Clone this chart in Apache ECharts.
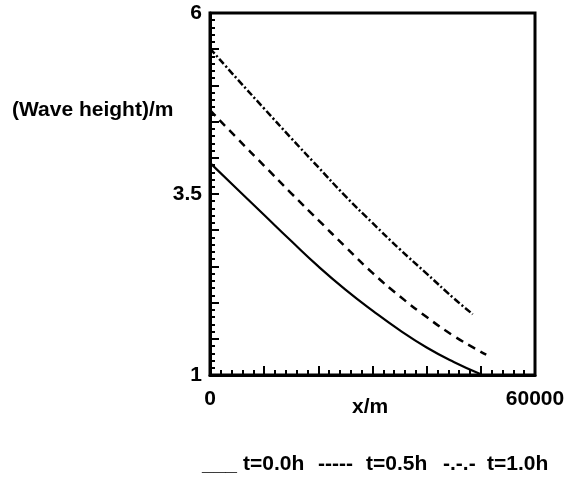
<!DOCTYPE html>
<html>
<head>
<meta charset="utf-8">
<script src="https://cdn.jsdelivr.net/npm/echarts@6/dist/echarts.min.js"></script>
<style>
  html, body { margin: 0; padding: 0; background: #fff; }
  #chart { width: 569px; height: 486px; }
</style>
</head>
<body>
<div id="chart"></div>
<script>
// Wave height along the channel at three times
const xPositions = [0, 5000, 10000, 15000, 20000, 25000, 30000, 35000, 40000, 45000, 50000];
const heightT00 = [3.93, 3.57, 3.21, 2.85, 2.50, 2.18, 1.89, 1.62, 1.38, 1.18, 1.01];
const xPositionsT05 = [0, 5000, 10000, 15000, 20000, 25000, 30000, 35000, 40000, 45000, 50000, 51000];
const heightT05 = [4.66, 4.27, 3.89, 3.51, 3.14, 2.77, 2.41, 2.09, 1.80, 1.54, 1.32, 1.28];
const xPositionsT10 = [0, 5000, 10000, 15000, 20000, 25000, 30000, 35000, 40000, 45000, 48500];
const heightT10 = [5.51, 5.09, 4.68, 4.27, 3.87, 3.47, 3.10, 2.74, 2.40, 2.06, 1.84];

const seriesNames = ['t=0.0h', 't=0.5h', 't=1.0h'];
const legendMarks = ['___', '-----', '-.-.-'];
const xTickLabels = [0, 60000];
const yTickLabels = [1, 3.5, 6];
const xTitle = 'x/m';
const yTitle = '(Wave height)/m';

// fine tick positions on the height axis, every 0.1 m from 1 to 6
const yFineTicks = Array.from({ length: 51 }, (_, i) => (1 + i / 10).toFixed(1));

const FONT = '"Liberation Sans", Arial, sans-serif';
const BOLD = 'bold 21px ' + FONT;

function pairs(xs, ys) { return xs.map((x, i) => [x, ys[i]]); }

const chart = echarts.init(document.getElementById('chart'));

const legendX = [[202, 243], [318, 366], [443, 487]];
const legendGraphics = [];
seriesNames.forEach((name, i) => {
  legendGraphics.push({
    type: 'text', left: legendX[i][0], top: 454,
    style: { text: legendMarks[i], font: BOLD, fill: '#000' }
  });
  legendGraphics.push({
    type: 'text', left: legendX[i][1], top: 454,
    style: { text: name, font: BOLD, fill: '#000' }
  });
});

const tickStyle = { color: '#000', width: 2 };
const labelStyle = { fontFamily: FONT, fontWeight: 'bold', fontSize: 21, color: '#000' };

chart.setOption({
  animation: false,
  backgroundColor: '#fff',
  grid: {
    left: 210, right: 34, top: 13, bottom: 111,
    show: true, borderColor: '#000', borderWidth: 3, backgroundColor: 'transparent'
  },
  xAxis: [
    {
      // fine ticks every 2000 m, carrying the labels
      type: 'value', min: 0, max: 60000, interval: 2000,
      axisLine: { show: true, lineStyle: { color: '#000', width: 3 } },
      axisTick: { show: true, inside: true, length: 5, lineStyle: tickStyle },
      splitLine: { show: false },
      axisLabel: Object.assign({
        margin: 14, showMinLabel: true, showMaxLabel: true, interval: 0,
        formatter: v => xTickLabels.includes(v) ? String(v) : ''
      }, labelStyle)
    },
    {
      // major ticks every 10000 m
      type: 'value', min: 0, max: 60000, interval: 10000, position: 'bottom', offset: 0,
      axisLine: { show: false },
      axisTick: { show: true, inside: true, length: 9, lineStyle: tickStyle },
      splitLine: { show: false },
      axisLabel: { show: false }
    }
  ],
  yAxis: [
    {
      // major ticks every 0.5 m, carrying the labels
      type: 'value', min: 1, max: 6, interval: 0.5,
      axisLine: { show: true, lineStyle: { color: '#000', width: 3 } },
      axisTick: { show: true, inside: true, length: 9, lineStyle: tickStyle },
      splitLine: { show: false },
      axisLabel: Object.assign({
        margin: 8, interval: 0,
        formatter: v => yTickLabels.some(t => Math.abs(t - v) < 1e-6) ? String(v) : ''
      }, labelStyle)
    },
    {
      // fine ticks every 0.1 m
      type: 'category', data: yFineTicks, boundaryGap: false,
      position: 'left', offset: 0,
      axisLine: { show: false },
      axisTick: { show: true, inside: true, length: 5, interval: 0, lineStyle: tickStyle },
      splitLine: { show: false },
      axisLabel: { show: false }
    }
  ],
  graphic: [
    {
      type: 'text', left: 12, top: 100,
      style: { text: yTitle, font: BOLD, fill: '#000' }
    },
    {
      type: 'text', left: 352, top: 397,
      style: { text: xTitle, font: BOLD, fill: '#000' }
    },
    ...legendGraphics
  ],
  series: [
    {
      name: seriesNames[0], type: 'line', smooth: 0.5, symbol: 'none',
      data: pairs(xPositions, heightT00),
      lineStyle: { color: '#000', width: 2.2, type: 'solid' }
    },
    {
      name: seriesNames[1], type: 'line', smooth: 0.5, symbol: 'none',
      data: pairs(xPositionsT05, heightT05),
      lineStyle: { color: '#000', width: 2.5, type: [8, 6] }
    },
    {
      name: seriesNames[2], type: 'line', smooth: 0.5, symbol: 'none',
      data: pairs(xPositionsT10, heightT10),
      lineStyle: { color: '#000', width: 2.5, type: [7, 2.5, 2, 2.5] }
    }
  ]
});
</script>
</body>
</html>
